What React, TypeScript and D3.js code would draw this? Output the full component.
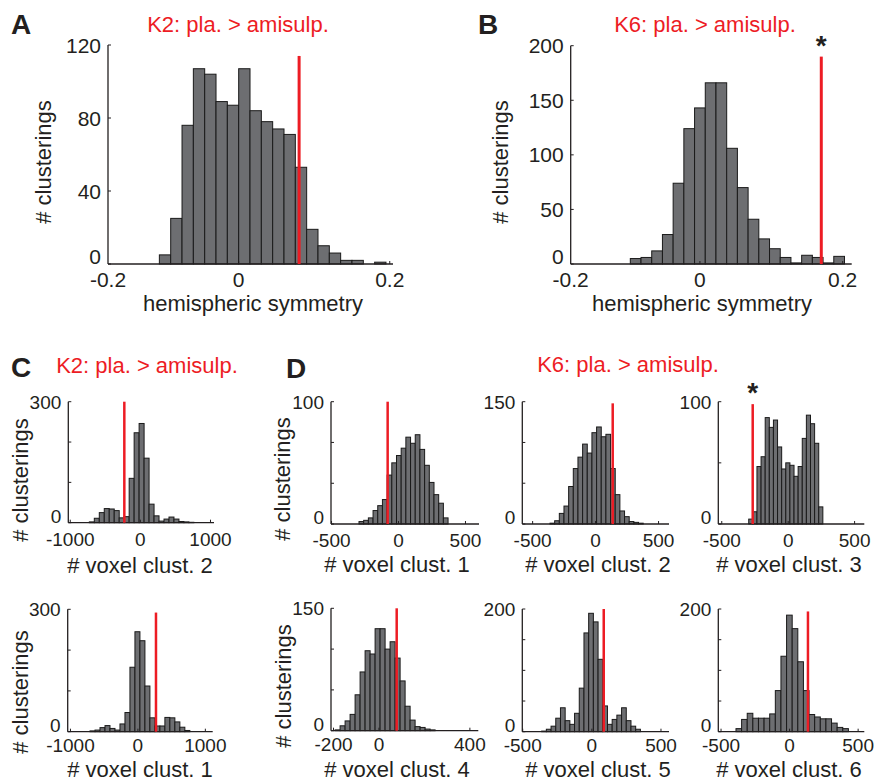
import React from 'react';
import * as d3 from 'd3';

// ---- panel A / B : hemispheric symmetry (bins of 0.015) ----
const hemiK2Counts = [5, 25, 76, 107, 104, 89, 87, 107, 84, 78, 74, 71, 53, 19, 10, 6, 2, 2, 0, 1];
const hemiK2Bins = { start: -0.105, width: 0.015 };
const hemiK2Observed = 0.08;

const hemiK6Counts = [5, 6, 12, 27, 74, 124, 143, 166, 166, 106, 70, 41, 23, 14, 6, 1, 8, 6, 1, 7];
const hemiK6Bins = { start: -0.0975, width: 0.015 };
const hemiK6Observed = 0.17;

const hemiTicks = [-0.2, 0, 0.2];

// ---- panel C : K2, voxel counts per cluster ----
const k2Clust2Counts = [2, 11, 25, 35, 34, 30, 12, 15, 110, 223, 246, 160, 46, 17, 4, 9, 14, 9, 3, 2, 1];
const k2Clust2Bins = { start: -728, width: 71 };
const k2Clust2Observed = -229;

const k2Clust1Counts = [2, 4, 10, 15, 8, 4, 19, 47, 158, 245, 223, 112, 34, 14, 14, 35, 34, 24, 11, 3];
const k2Clust1Bins = { start: -710, width: 74 };
const k2Clust1Observed = 268;

// ---- panel D : K6, voxel counts per cluster ----
const k6Clust1Counts = [2, 3, 5, 11, 15, 20, 40, 50, 56, 62, 71, 66, 73, 61, 48, 34, 24, 17, 5];
const k6Clust1Bins = { start: -295, width: 35 };
const k6Clust1Observed = -81;

const k6Clust2Counts = [1, 4, 13, 22, 46, 68, 82, 98, 87, 112, 119, 107, 110, 68, 36, 16, 9, 3, 2, 1];
const k6Clust2Bins = { start: -362, width: 37 };
const k6Clust2Observed = 136;

const k6Clust3Counts = [4, 10, 47, 55, 87, 79, 85, 63, 45, 50, 48, 39, 47, 70, 89, 82, 66, 14];
const k6Clust3Bins = { start: -297, width: 31 };
const k6Clust3Observed = -267;

const k6Clust4Counts = [1, 6, 12, 20, 44, 72, 98, 94, 125, 125, 100, 109, 89, 61, 30, 13, 5, 4, 2, 1];
const k6Clust4Bins = { start: -193, width: 22 };
const k6Clust4Observed = 78;

const k6Clust5Counts = [1, 4, 9, 22, 39, 18, 12, 30, 71, 161, 193, 179, 118, 42, 12, 20, 27, 39, 18, 9, 4];
const k6Clust5Bins = { start: -363, width: 34 };
const k6Clust5Observed = 86;

const k6Clust6Counts = [5, 20, 30, 22, 22, 22, 29, 67, 123, 190, 168, 114, 67, 28, 24, 21, 21, 14, 7, 5];
const k6Clust6Bins = { start: -391, width: 41 };
const k6Clust6Observed = 134;

const ticks1000 = [-1000, 0, 1000];
const ticks500 = [-500, 0, 500];
const ticks400 = [-200, 0, 400];

const titleK2 = 'K2: pla. > amisulp.';
const titleK6 = 'K6: pla. > amisulp.';
const hemiLabel = 'hemispheric symmetry';
const yLabelText = '# clusterings';

const FONT = '"Liberation Sans", Arial, Helvetica, sans-serif';
const INK = '#231f20';
const RED = '#ed1c24';
const BAR = '#6d6e71';

function Hist(p) {
  const { counts, bins, xDomain, box, yMax, yTicks, yLabeled, xTicks, red, redTop, redW,
    xLabel, xLabelX, xLabelY, tickY, yLabelPos, tickFs, star } = p;
  const x = d3.scaleLinear().domain(xDomain).range([box.left, box.right]);
  const y = d3.scaleLinear().domain([0, yMax]).range([box.bottom, box.top]);
  const clampX = (v) => Math.min(Math.max(x(v), box.left), box.right);

  return (
    <g fontFamily={FONT} fill={INK}>
      {counts.map((c, i) => {
        const x0 = x(bins.start + i * bins.width);
        const x1 = x(bins.start + (i + 1) * bins.width);
        return (
          <rect key={i} x={x0} y={y(c)} width={x1 - x0} height={y(0) - y(c)}
            fill={BAR} stroke="#1a1a1a" strokeWidth={1} />
        );
      })}
      {/* axes */}
      <line x1={box.left} x2={box.left} y1={box.top} y2={box.bottom} stroke={INK} strokeWidth={1.3} />
      <line x1={box.left} x2={box.right} y1={box.bottom} y2={box.bottom} stroke={INK} strokeWidth={1.3} />
      {yTicks.map((t) => (
        <line key={'yt' + t} x1={box.left} x2={box.left + 3} y1={y(t)} y2={y(t)} stroke={INK} strokeWidth={1} />
      ))}
      {xTicks.filter((t) => t >= xDomain[0] && t <= xDomain[1]).map((t) => (
        <line key={'xt' + t} x1={x(t)} x2={x(t)} y1={box.bottom} y2={box.bottom - 3} stroke={INK} strokeWidth={1} />
      ))}
      {yLabeled.map((t) => (
        <text key={'yl' + t} x={box.left - 7} y={Math.min(y(t) + tickFs * 0.36, y(0))}
          textAnchor="end" fontSize={tickFs}>{t}</text>
      ))}
      {xTicks.map((t) => (
        <text key={'xl' + t} x={clampX(t)} y={box.bottom + tickY} textAnchor="middle" fontSize={tickFs}>
          {t}
        </text>
      ))}
      {/* observed value */}
      <line x1={x(red)} x2={x(red)} y1={y(0)} y2={y(redTop)} stroke={RED} strokeWidth={redW} />
      {star && (
        <text x={x(red)} y={y(redTop) - 2} textAnchor="middle" fontSize={28} fontWeight="bold">*</text>
      )}
      <text x={xLabelX} y={xLabelY} textAnchor="middle" fontSize={22}>{xLabel}</text>
      {yLabelPos && (
        <text transform={`translate(${yLabelPos[0]},${yLabelPos[1]}) rotate(-90)`} textAnchor="middle" fontSize={22}>
          {yLabelText}
        </text>
      )}
    </g>
  );
}

const PanelLetter = ({ x, y, t }) => (
  <text x={x} y={y} fontFamily={FONT} fontWeight="bold" fontSize={28} fill={INK}>{t}</text>
);
const Title = ({ x, y, t }) => (
  <text x={x} y={y} fontFamily={FONT} fontSize={22} fill={RED} textAnchor="middle">{t}</text>
);

export default function App() {
  return (
    <svg width={878} height={782} style={{ position: 'absolute', left: 0, top: 0, background: '#fff' }}>
      <rect width={878} height={782} fill="#fff" />

      <PanelLetter x={11} y={34} t="A" />
      <Title x={238} y={32} t={titleK2} />
      <Hist counts={hemiK2Counts} bins={hemiK2Bins} xDomain={[-0.173, 0.2043]}
        box={{ left: 108, right: 393, top: 45, bottom: 264 }} yMax={120}
        yTicks={[0, 40, 80, 120]} yLabeled={[0, 40, 80, 120]} xTicks={hemiTicks} tickY={23}
        red={hemiK2Observed} redTop={114} redW={3} xLabel={hemiLabel} xLabelX={253} xLabelY={311}
        yLabelPos={[51, 162]} tickFs={21} />

      <PanelLetter x={478} y={34} t="B" />
      <Title x={705} y={32} t={titleK6} />
      <Hist counts={hemiK6Counts} bins={hemiK6Bins} xDomain={[-0.181, 0.2126]}
        box={{ left: 570.7, right: 851.7, top: 45.7, bottom: 264 }} yMax={200}
        yTicks={[0, 50, 100, 150, 200]} yLabeled={[0, 50, 100, 150, 200]} xTicks={hemiTicks} tickY={23}
        red={hemiK6Observed} redTop={190} redW={3} star xLabel={hemiLabel} xLabelX={702} xLabelY={311}
        yLabelPos={[508, 162]} tickFs={21} />

      <PanelLetter x={11} y={377} t="C" />
      <Title x={147} y={373} t={titleK2} />
      <Hist counts={k2Clust2Counts} bins={k2Clust2Bins} xDomain={[-1028, 1050]}
        box={{ left: 68.3, right: 214, top: 401.7, bottom: 522.7 }} yMax={300}
        yTicks={[0, 100, 200, 300]} yLabeled={[0, 300]} xTicks={ticks1000} tickY={23}
        red={k2Clust2Observed} redTop={300} redW={2.5} xLabel="# voxel clust. 2" xLabelX={140} xLabelY={573}
        yLabelPos={[28, 480]} tickFs={19} />
      <Hist counts={k2Clust1Counts} bins={k2Clust1Bins} xDomain={[-1041, 1109]}
        box={{ left: 67.7, right: 212.7, top: 609.3, bottom: 731.7 }} yMax={300}
        yTicks={[0, 100, 200, 300]} yLabeled={[0, 300]} xTicks={ticks1000} tickY={20.5}
        red={k2Clust1Observed} redTop={292} redW={2.5} xLabel="# voxel clust. 1" xLabelX={140} xLabelY={777}
        yLabelPos={[28, 692]} tickFs={19} />

      <PanelLetter x={286} y={378} t="D" />
      <Title x={628} y={372} t={titleK6} />
      <Hist counts={k6Clust1Counts} bins={k6Clust1Bins} xDomain={[-504, 601]}
        box={{ left: 331, right: 479, top: 401.7, bottom: 524 }} yMax={100}
        yTicks={[0, 33.3, 66.7, 100]} yLabeled={[0, 100]} xTicks={ticks500} tickY={23}
        red={k6Clust1Observed} redTop={100} redW={2.5} xLabel="# voxel clust. 1" xLabelX={397} xLabelY={572}
        yLabelPos={[290, 479]} tickFs={19} />
      <Hist counts={k6Clust2Counts} bins={k6Clust2Bins} xDomain={[-582, 583]}
        box={{ left: 522.3, right: 669, top: 401.7, bottom: 524 }} yMax={150}
        yTicks={[0, 50, 100, 150]} yLabeled={[0, 150]} xTicks={ticks500} tickY={23}
        red={k6Clust2Observed} redTop={148} redW={2.5} xLabel="# voxel clust. 2" xLabelX={598} xLabelY={572}
        tickFs={19} />
      <Hist counts={k6Clust3Counts} bins={k6Clust3Bins} xDomain={[-526, 573]}
        box={{ left: 718.3, right: 864.3, top: 401.7, bottom: 524 }} yMax={100}
        yTicks={[0, 50, 100]} yLabeled={[0, 100]} xTicks={ticks500} tickY={23}
        red={k6Clust3Observed} redTop={98} redW={2.5} star xLabel="# voxel clust. 3" xLabelX={789} xLabelY={572}
        tickFs={19} />

      <Hist counts={k6Clust4Counts} bins={k6Clust4Bins} xDomain={[-211, 437]}
        box={{ left: 331, right: 478.3, top: 608.3, bottom: 730.7 }} yMax={150}
        yTicks={[0, 50, 100, 150]} yLabeled={[0, 150]} xTicks={ticks400} tickY={20.5}
        red={k6Clust4Observed} redTop={150} redW={2.5} xLabel="# voxel clust. 4" xLabelX={397} xLabelY={777}
        yLabelPos={[291, 686]} tickFs={19} />
      <Hist counts={k6Clust5Counts} bins={k6Clust5Bins} xDomain={[-503, 558]}
        box={{ left: 522.3, right: 669, top: 609, bottom: 731.7 }} yMax={200}
        yTicks={[0, 50, 100, 150, 200]} yLabeled={[0, 200]} xTicks={ticks500} tickY={20.5}
        red={k6Clust5Observed} redTop={200} redW={2.5} xLabel="# voxel clust. 5" xLabelX={598} xLabelY={777}
        tickFs={19} />
      <Hist counts={k6Clust6Counts} bins={k6Clust6Bins} xDomain={[-520, 545]}
        box={{ left: 718.3, right: 864.3, top: 609, bottom: 731.7 }} yMax={200}
        yTicks={[0, 50, 100, 150, 200]} yLabeled={[0, 200]} xTicks={ticks500} tickY={20.5}
        red={k6Clust6Observed} redTop={196} redW={2.5} xLabel="# voxel clust. 6" xLabelX={789} xLabelY={777}
        tickFs={19} />
    </svg>
  );
}
